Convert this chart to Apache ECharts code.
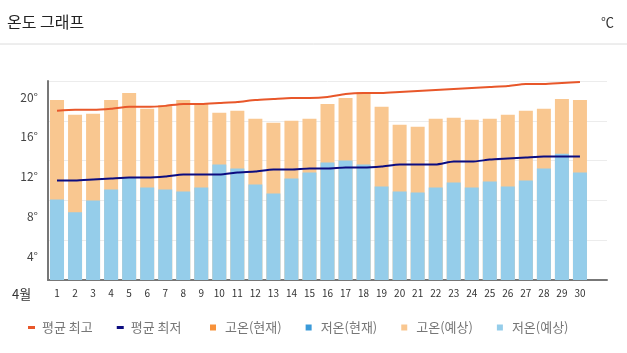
<!DOCTYPE html>
<html>
<head>
<meta charset="utf-8">
<script src="https://cdn.jsdelivr.net/npm/echarts@6/dist/echarts.min.js"></script>
<style>
html, body { margin: 0; padding: 0; background: #fff; }
#main { width: 627px; height: 353px; }
</style>
</head>
<body>
<div id="main"></div>
<script>
// 날짜 (31번째 칸은 비어 있음)
var days = ['1','2','3','4','5','6','7','8','9','10','11','12','13','14','15',
	'16','17','18','19','20','21','22','23','24','25','26','27','28','29','30',''];
// 고온/저온 예상
var hiForecast = [18.1,16.6,16.7,18.1,18.8,17.2,17.6,18.1,17.7,16.8,17.0,16.2,15.8,16.0,16.2,
	17.7,18.3,18.9,17.4,15.6,15.4,16.2,16.3,16.1,16.2,16.6,17.0,17.2,18.2,18.1];
var loForecast = [8.1,6.8,8.0,9.1,10.3,9.3,9.1,8.9,9.3,11.6,11.2,9.6,8.7,10.2,10.8,
	11.8,12.0,11.6,9.4,8.9,8.8,9.3,9.8,9.3,9.9,9.4,10.0,11.2,12.7,10.8];
// 현재 값 (없음)
var hiNow = [];
var loNow = [];
// 평균 최고/최저
var avgHigh = [17.0,17.1,17.1,17.2,17.4,17.4,17.5,17.7,17.7,17.8,17.9,18.1,18.2,18.3,18.3,
	18.4,18.7,18.8,18.8,18.9,19.0,19.1,19.2,19.3,19.4,19.5,19.7,19.7,19.8,19.9];
var avgLow = [10.0,10.0,10.1,10.2,10.3,10.3,10.4,10.6,10.6,10.6,10.8,10.9,11.1,11.1,11.2,
	11.2,11.3,11.3,11.4,11.6,11.6,11.6,11.9,11.9,12.1,12.2,12.3,12.4,12.4,12.4];

var font = '"Noto Sans CJK KR", "Noto Sans", sans-serif';
var legendText = { color: '#777', fontSize: 13, fontFamily: font };
var myChart = echarts.init(document.getElementById('main'));
var option = {
	animation: false,
	textStyle: { fontFamily: font },
	title: [
		{ text: '온도 그래프', left: 2, top: 9, textStyle: { fontSize: 16, fontWeight: 'normal', color: '#222', fontFamily: font } },
		{ text: '℃', right: 8, top: 11, textStyle: { fontSize: 13, fontWeight: 'normal', color: '#333', fontFamily: font } },
		{ text: '4월', left: 7, top: 283, textStyle: { fontSize: 13, fontWeight: 'normal', color: '#333', fontFamily: font } }
	],
	graphic: [{
		type: 'line', shape: { x1: 0, y1: 44, x2: 627, y2: 44 },
		style: { stroke: '#dcdcdc', lineWidth: 1 }
	}],
	legend: [
		{
			left: 23, top: 316, padding: 5,
			itemWidth: 7, itemHeight: 3, itemGap: 24,
			icon: 'rect',
			textStyle: Object.assign({ padding: [0, 0, 0, 2] }, legendText),
			data: ['평균 최고', '평균 최저']
		},
		{
			left: 205, top: 316, padding: 5,
			itemWidth: 6, itemHeight: 6, itemGap: 24,
			icon: 'rect',
			textStyle: Object.assign({ padding: [0, 0, 0, 4] }, legendText),
			data: ['고온(현재)', '저온(현재)', '고온(예상)', '저온(예상)']
		}
	],
	grid: { left: 48, right: 20, top: 81, bottom: 73 },
	xAxis: {
		type: 'category',
		data: days,
		axisLine: { lineStyle: { color: '#777', width: 2 } },
		axisTick: { show: false },
		axisLabel: { color: '#333', fontSize: 10, margin: 8, interval: 0 }
	},
	yAxis: {
		type: 'value',
		min: 0, max: 20, interval: 4,
		axisLine: { show: true, lineStyle: { color: '#777', width: 2 } },
		axisTick: { show: false },
		splitLine: { lineStyle: { color: '#ececec' } },
		axisLabel: {
			color: '#444', fontSize: 12, margin: 10,
			verticalAlign: 'top', lineHeight: 32,
			formatter: function (v) { return v === 0 ? '' : v + '°'; }
		}
	},
	series: [
		{ name: '고온(현재)', type: 'bar', stack: 'hi', data: hiNow, barWidth: 14, barGap: '-100%', itemStyle: { color: '#f7923a' } },
		{ name: '저온(현재)', type: 'bar', stack: 'lo', data: loNow, barWidth: 14, barGap: '-100%', itemStyle: { color: '#3a9ad9' } },
		{ name: '고온(예상)', type: 'bar', stack: 'hi', data: hiForecast, barWidth: 14, barGap: '-100%', itemStyle: { color: '#f9c790' } },
		{ name: '저온(예상)', type: 'bar', stack: 'lo', data: loForecast, barWidth: 14, barGap: '-100%', itemStyle: { color: '#95cdea' } },
		{ name: '평균 최고', type: 'line', data: avgHigh, symbol: 'none', smooth: 0.2,
			lineStyle: { color: '#e8572a', width: 2 }, itemStyle: { color: '#e8572a' } },
		{ name: '평균 최저', type: 'line', data: avgLow, symbol: 'none', smooth: 0.2,
			lineStyle: { color: '#0c0c80', width: 2 }, itemStyle: { color: '#0c0c80' } }
	]
};
myChart.setOption(option);
</script>
</body>
</html>
